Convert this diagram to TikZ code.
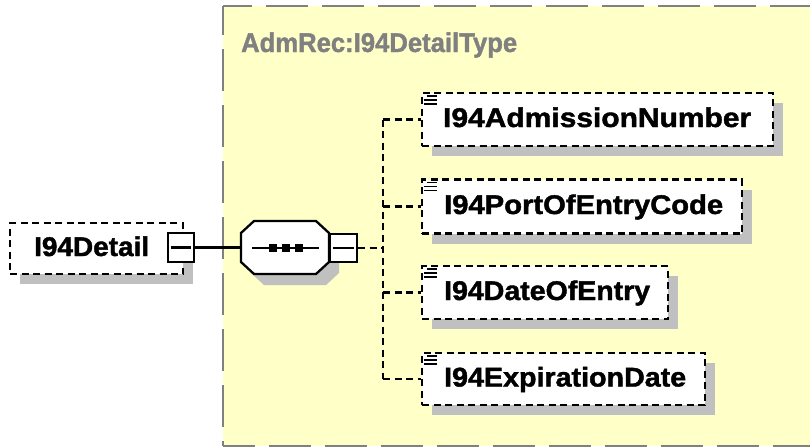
\documentclass[tikz,border=0pt]{standalone}
\usepackage{fontspec}
\setmainfont{Liberation Sans}[BoldFeatures={FakeBold=1.5}]
\usetikzlibrary{calc,shadows}
\definecolor{bgyellow}{RGB}{255,255,200}
\definecolor{shgray}{RGB}{192,192,192}
\definecolor{lblgray}{RGB}{128,128,128}
\begin{document}
\begin{tikzpicture}[x=1pt,y=-1pt,line width=2.3pt,
  elbox/.style={draw=black, dash pattern=on 7pt off 4.5pt, fill=white, inner sep=0pt,
    drop shadow={shadow xshift=10pt,shadow yshift=-10pt,fill=shgray,opacity=1}},
  minusbox/.style={draw=black, solid, fill=white, inner sep=0pt},
  txt/.style={inner sep=0pt, anchor=base west, font=\fontsize{27}{30}\selectfont\bfseries},
  conn/.style={draw=black, dash pattern=on 7pt off 4.5pt},
  ydash/.style={draw=lblgray, line width=2.3pt, dash pattern=on 42pt off 14pt}]
\useasboundingbox (0,0) rectangle (810,447);
\begin{scope}
\clip (0,0) rectangle (810,447);
% yellow type box
\fill[bgyellow] (223,6) rectangle (840,446);
\draw[ydash, dash phase=13pt] (223,6) -- (840,6);
\draw[ydash, dash phase=13pt] (223,6) -- (223,446);
\draw[ydash, dash phase=10pt] (223,446) -- (840,446);
\end{scope}
\node[txt, text=lblgray] (lbl) at (240,52) {\resizebox{276pt}{\height}{AdmRec:I94DetailType}};

% main element
\node[elbox, minimum width=173pt, minimum height=51pt] (d) at (96.5,248.5) {};
\node[txt] (dt) at (33,256) {\resizebox{115pt}{\height}{I94Detail}};
\node[minusbox, minimum width=26pt, minimum height=29pt] (m1) at (181,247.5) {};
\draw ($(m1.west)+(4,0)$) -- ($(m1.east)+(-4,0)$);

% sequence compositor
\node[minimum width=88pt, minimum height=53pt, inner sep=0pt] (seq) at (285,247.5) {};
\begin{scope}[shift={(10,11)}]
\fill[shgray] (254,221) -- (316,221) -- (329,233) -- (329,262) -- (316,274) -- (254,274) -- (241,262) -- (241,233) -- cycle;
\end{scope}
\draw[fill=white] (254,221) -- (316,221) -- (329,233) -- (329,262) -- (316,274) -- (254,274) -- (241,262) -- (241,233) -- cycle;
\draw ($(seq.west)+(12,0.5)$) -- ($(seq.east)+(-11,0.5)$);
\foreach \cx in {272.5,286,298.5} \fill (\cx-4,244) rectangle (\cx+4,252);
\node[minusbox, minimum width=27pt, minimum height=28pt] (m2) at (343.5,248) {};
\draw ($(m2.west)+(4,0)$) -- ($(m2.east)+(-4,0)$);

% child elements
\node[elbox, minimum width=351pt, minimum height=53pt] (c1) at (597.5,119.5) {};
\node[elbox, minimum width=320pt, minimum height=54pt] (c2) at (582,206.5) {};
\node[elbox, minimum width=246pt, minimum height=53pt] (c3) at (545,292.5) {};
\node[elbox, minimum width=283pt, minimum height=52pt] (c4) at (563.5,379) {};
\node[txt] (t1) at (442,127) {\resizebox{308pt}{\height}{I94AdmissionNumber}};
\node[txt] (t2) at (443,214) {\resizebox{279pt}{\height}{I94PortOfEntryCode}};
\node[txt] (t3) at (443,300) {\resizebox{206pt}{\height}{I94DateOfEntry}};
\node[txt] (t4) at (443,386.5) {\resizebox{242pt}{\height}{I94ExpirationDate}};
\foreach \n in {c1,c2,c3,c4} {
  \draw[line width=1.6pt] ($(\n.north west)+(6,4)$) -- ++(10,0);
  \draw[line width=1.6pt] ($(\n.north west)+(3,8)$) -- ++(13,0);
  \draw[line width=1.6pt] ($(\n.north west)+(3,12)$) -- ++(13,0);
}

% connectors
\draw (m1.east) -- (seq.west);
\coordinate (bus) at (383,248);
\draw[conn] (m2.east) -- (bus);
\draw[conn] (bus |- c1.west) -- (bus |- c4.west);
\foreach \n in {c1,c2,c3,c4} \draw[conn] (bus |- \n.west) -- (\n.west);
\end{tikzpicture}
\end{document}
